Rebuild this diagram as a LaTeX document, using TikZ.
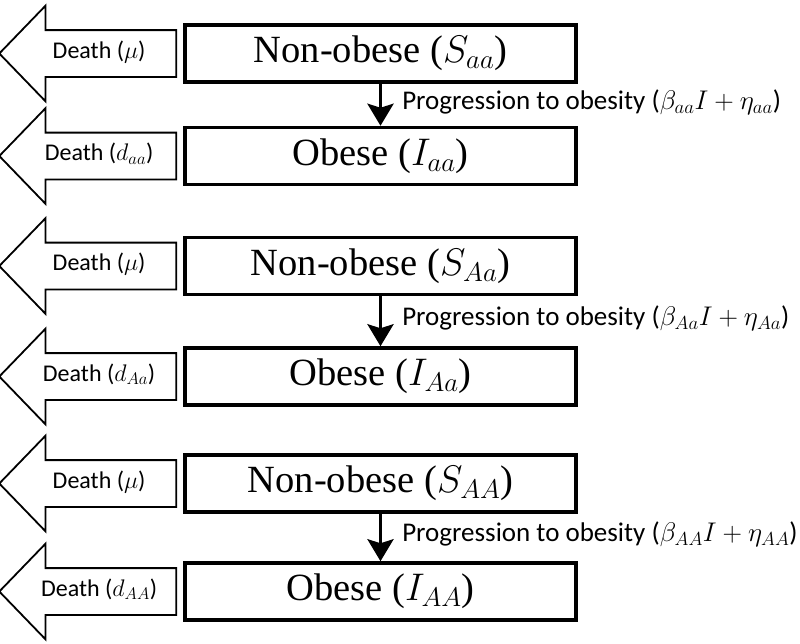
\RequirePackage{fix-cm}
\documentclass[tikz,border=0pt]{standalone}
\usepackage{fontspec}
\setmainfont{Liberation Serif}
\newfontfamily\labelfont{Carlito}
\usepackage{tikz}
\usetikzlibrary{positioning,arrows.meta,shapes.arrows}
\tikzset{
  statebox/.style={draw, line width=3.5pt, fill=white, minimum width=391pt, minimum height=57pt, inner sep=0pt, font=\fontsize{38.5}{42}\selectfont},
  death/.style={draw, line width=1.8pt, fill=white, single arrow, shape border rotate=180, single arrow head extend=24.5pt, single arrow tip angle=92, minimum height=177pt, text height=15pt, text depth=6pt, inner ysep=12pt, font=\labelfont\fontsize{24}{26}\selectfont},
  flow/.style={-{Stealth[length=22pt, width=26pt, inset=4pt]}, line width=3.5pt},
  prog/.style={right=20pt, yshift=3pt, inner sep=0pt, font=\labelfont\fontsize{27}{30}\selectfont}
}
\begin{document}
\begin{tikzpicture}[node distance=47pt]
    \useasboundingbox (0,0) rectangle (800pt,-643pt);
    % genotype aa
    \node[statebox] (Saa) at (380.5pt,-53.5pt) {Non-obese ($S_{aa}$)};
    \node[statebox, below=42pt of Saa] (Iaa) {Obese ($I_{aa}$)};
    % genotype Aa
    \node[statebox, below=49.5pt of Iaa] (SAa) {Non-obese ($S_{Aa}$)};
    \node[statebox, below=50pt of SAa] (IAa) {Obese ($I_{Aa}$)};
    % genotype AA
    \node[statebox, below=46.5pt of IAa] (SAA) {Non-obese ($S_{AA}$)};
    \node[statebox, below=47.5pt of SAA] (IAA) {Obese ($I_{AA}$)};
    % death
    \node[death, left=6pt of Saa] (dSaa) {Death ($\mu$)};
    \node[death, left=6pt of Iaa] (dIaa) {Death ($d_{aa}$)};
    \node[death, left=6pt of SAa] (dSAa) {Death ($\mu$)};
    \node[death, left=6pt of IAa] (dIAa) {Death ($d_{Aa}$)};
    \node[death, left=6pt of SAA] (dSAA) {Death ($\mu$)};
    \node[death, left=6pt of IAA] (dIAA) {Death ($d_{AA}$)};
    % progression
    \draw[flow] (Saa) -- node[prog] (paa) {Progression to obesity ($\beta_{aa}I+\eta_{aa}$)} (Iaa);
    \draw[flow] (SAa) -- node[prog] (pAa) {Progression to obesity ($\beta_{Aa}I+\eta_{Aa}$)} (IAa);
    \draw[flow] (SAA) -- node[prog] (pAA) {Progression to obesity ($\beta_{AA}I+\eta_{AA}$)} (IAA);
\end{tikzpicture}
\end{document}
